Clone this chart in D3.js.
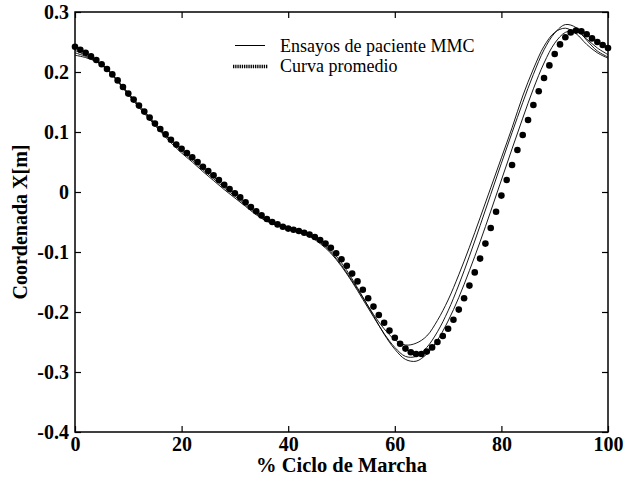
<!DOCTYPE html>
<html><head><meta charset="utf-8">
<script src="https://cdn.jsdelivr.net/npm/d3@7"></script>
<style>
html,body{margin:0;padding:0;background:#fff;}
svg{display:block;}
text{font-family:"Liberation Serif","Times New Roman",serif;fill:#000;}
</style></head>
<body>
<svg id="chart" width="625" height="477"></svg>
<script>
// Mean curve ("Curva promedio"), one value per 1% of the gait cycle (0..100)
const meanPct = d3.range(0, 101, 1);
const meanValues = [
 0.242,0.237,0.232,0.226,0.220,0.213,0.205,0.196,0.186,0.175,
 0.164,0.154,0.144,0.134,0.124,0.114,0.105,0.096,0.087,0.079,
 0.072,0.065,0.058,0.050,0.042,0.035,0.028,0.020,0.012,0.005,
 -0.002,-0.009,-0.017,-0.025,-0.032,-0.039,-0.045,-0.050,-0.054,-0.058,
 -0.061,-0.063,-0.065,-0.068,-0.071,-0.075,-0.080,-0.086,-0.093,-0.102,
 -0.112,-0.123,-0.136,-0.149,-0.163,-0.177,-0.191,-0.205,-0.218,-0.231,
 -0.243,-0.253,-0.261,-0.267,-0.270,-0.270,-0.266,-0.259,-0.250,-0.240,
 -0.228,-0.213,-0.196,-0.177,-0.156,-0.134,-0.111,-0.086,-0.060,-0.033,
 -0.006,0.020,0.045,0.070,0.095,0.120,0.145,0.168,0.190,0.211,
 0.230,0.246,0.258,0.266,0.269,0.268,0.263,0.256,0.250,0.245,
 0.240
];
// Patient trials ("Ensayos de paciente MMC"), sampled every 2%
const trialPct = d3.range(0, 101, 2);
const trialA = [
 0.236,0.228,0.219,0.206,0.186,0.165,0.145,0.125,0.105,0.087,
 0.071,0.056,0.040,0.025,0.010,-0.004,-0.019,-0.034,-0.046,-0.055,
 -0.061,-0.066,-0.073,-0.084,-0.100,-0.122,-0.148,-0.176,-0.204,-0.228,
 -0.246,-0.255,-0.252,-0.240,-0.214,-0.180,-0.138,-0.092,-0.043,0.007,
 0.057,0.107,0.160,0.205,0.243,0.266,0.273,0.264,0.246,0.232,
 0.223
];
const trialB = [
 0.232,0.226,0.218,0.205,0.185,0.164,0.143,0.123,0.103,0.085,
 0.068,0.053,0.037,0.022,0.007,-0.007,-0.022,-0.036,-0.048,-0.056,
 -0.062,-0.067,-0.074,-0.086,-0.102,-0.124,-0.150,-0.179,-0.208,-0.236,
 -0.259,-0.274,-0.274,-0.259,-0.233,-0.198,-0.155,-0.107,-0.056,-0.004,
 0.048,0.099,0.149,0.196,0.237,0.265,0.279,0.274,0.253,0.235,
 0.225
];
const trialC = [
 0.228,0.224,0.217,0.204,0.184,0.162,0.141,0.121,0.101,0.082,
 0.065,0.050,0.034,0.019,0.004,-0.010,-0.024,-0.038,-0.049,-0.056,
 -0.061,-0.066,-0.072,-0.082,-0.097,-0.118,-0.145,-0.175,-0.206,-0.237,
 -0.262,-0.279,-0.282,-0.270,-0.247,-0.215,-0.176,-0.131,-0.083,-0.032,
 0.020,0.072,0.123,0.172,0.215,0.248,0.266,0.268,0.255,0.240,
 0.229
];
const trials = [trialA, trialB, trialC];
const xTicks = [0, 20, 40, 60, 80, 100];
const yTicks = [-0.4, -0.3, -0.2, -0.1, 0, 0.1, 0.2, 0.3];
const xLabel = "% Ciclo de Marcha";
const yLabel = "Coordenada X[m]";
const legendLabels = ["Ensayos de paciente MMC", "Curva promedio"];

const svg = d3.select("#chart");
const L = 75, R = 608, T = 12, B = 432;
const x = d3.scaleLinear().domain([0, 100]).range([L, R]);
const y = d3.scaleLinear().domain([-0.4, 0.3]).range([B, T]);
const fmtY = v => (Math.abs(v) < 1e-9 ? "0" : d3.format(".1f")(v).replace("\u2212", "-"));

// trials
const line = d3.line().x((d, i) => x(trialPct[i])).y(d => y(d)).curve(d3.curveCatmullRom);
svg.append("g").selectAll("path").data(trials).join("path")
  .attr("d", line).attr("fill", "none").attr("stroke", "#000").attr("stroke-width", 0.9);

// mean dots
svg.append("g").selectAll("circle").data(meanValues).join("circle")
  .attr("cx", (d, i) => x(meanPct[i])).attr("cy", d => y(d)).attr("r", 3.3).attr("fill", "#000");

// axes (box with inward ticks)
const tickLen = 6;
const axB = d3.axisBottom(x).tickValues(xTicks).tickSize(-tickLen).tickPadding(5).tickFormat(d3.format("d"));
const axT = d3.axisTop(x).tickValues(xTicks).tickSize(-tickLen).tickFormat("");
const axLft = d3.axisLeft(y).tickValues(yTicks).tickSize(-tickLen).tickPadding(6).tickFormat(fmtY);
const axRgt = d3.axisRight(y).tickValues(yTicks).tickSize(-tickLen).tickFormat("");
function style(g){
  g.select(".domain").attr("stroke", "#000").attr("stroke-width", 1.5);
  g.selectAll(".tick line").attr("stroke", "#000").attr("stroke-width", 1.2);
  g.selectAll(".tick text").attr("font-family", '"Liberation Serif", serif').attr("font-weight", "bold").attr("font-size", 20).attr("fill", "#000");
}
svg.append("g").attr("transform", `translate(0,${B})`).call(axB).call(style);
svg.append("g").attr("transform", `translate(0,${T})`).call(axT).call(style);
svg.append("g").attr("transform", `translate(${L},0)`).call(axLft).call(style);
svg.append("g").attr("transform", `translate(${R},0)`).call(axRgt).call(style);
svg.selectAll(".domain").attr("d", null);
svg.append("rect").attr("x", L).attr("y", T).attr("width", R - L).attr("height", B - T)
  .attr("fill", "none").attr("stroke", "#000").attr("stroke-width", 1.5);

// axis titles
svg.append("text").attr("x", (L + R) / 2).attr("y", 472).attr("text-anchor", "middle")
  .attr("font-weight", "bold").attr("font-size", 20.5).text(xLabel);
svg.append("text").attr("transform", `translate(27,${(T + B) / 2}) rotate(-90)`).attr("text-anchor", "middle")
  .attr("font-weight", "bold").attr("font-size", 20).text(yLabel);

// legend
const lg = svg.append("g");
lg.append("line").attr("x1", 235).attr("x2", 265).attr("y1", 45.5).attr("y2", 45.5)
  .attr("stroke", "#000").attr("stroke-width", 1);
lg.append("line").attr("x1", 233).attr("x2", 268).attr("y1", 66.5).attr("y2", 66.5)
  .attr("stroke", "#000").attr("stroke-width", 3.5).attr("stroke-dasharray", "1.3,0.9");
lg.append("text").attr("x", 280).attr("y", 52).attr("font-size", 18).text(legendLabels[0]);
lg.append("text").attr("x", 280).attr("y", 72).attr("font-size", 18).text(legendLabels[1]);
</script>
</body></html>
